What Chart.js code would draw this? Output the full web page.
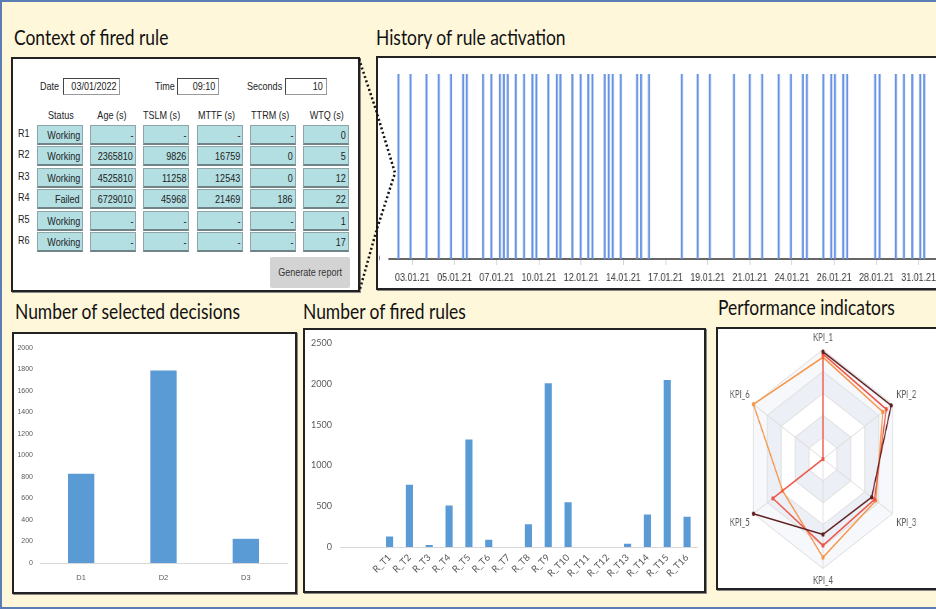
<!DOCTYPE html>
<html>
<head>
<meta charset="utf-8">
<title>Rule dashboard</title>
<script src="https://cdn.jsdelivr.net/npm/chart.js@4.4.1/dist/chart.umd.min.js"></script>
<style>
  html, body { margin: 0; padding: 0; }
  body {
    width: 936px; height: 609px; overflow: hidden; position: relative;
    background: #FFF7DA;
    font-family: "Liberation Sans", Arial, sans-serif;
    color: #222;
  }
  #frame {
    position: absolute; left: 0; top: 0; width: 940px; height: 605px;
    border-left: 2px solid #5A7DB5; border-top: 2px solid #5A7DB5; border-bottom: 2px solid #5A7DB5;
  }
  .title {
    position: absolute; font-family: Lato, sans-serif; font-size: 21px; line-height: 1;
    white-space: nowrap; color: #111; transform-origin: 0 0; transform: scaleX(0.83);
  }
  .panel {
    position: absolute; background: #fff; border: 2px solid #222;
    box-shadow: 1px 1px 0 #888; box-sizing: border-box;
  }
  .lbl, .hdr, .box, .cell { position: absolute; font-size: 10.5px; white-space: nowrap; }
  .lbl span, .hdr span, .box span, .cell span { display: inline-block; transform: scaleX(0.86); }
  .lbl { line-height: 14px; }
  .lbl span { transform-origin: 0 50%; }
  .hdr { line-height: 14px; width: 60px; text-align: center; }
  .hdr span { transform-origin: 50% 50%; }
  .box {
    background: #fff; box-sizing: border-box; height: 17px;
    border: 1px solid #444; border-right-color: #999; border-bottom-color: #999;
    line-height: 15px; text-align: right; padding-right: 3px;
  }
  .cell {
    box-sizing: border-box; height: 20px; width: 46px;
    background: #B3DFE2; border: 1px solid #8FA5A7; border-bottom: 2px solid #6F8486;
    line-height: 18px; text-align: right; padding-right: 2px;
  }
  .box span, .cell span { transform-origin: 100% 50%; }
  #btn {
    position: absolute; left: 270px; top: 257px; width: 80px; height: 31px;
    background: #D3D3D3; border-radius: 2px; font-size: 10.5px; line-height: 31px;
    text-align: center; color: #333;
  }
  #btn span { display: inline-block; transform: scaleX(0.86); }
  canvas { position: absolute; transform-origin: 0 0; }
</style>
</head>
<body>
<div id="frame"></div>

<div class="title" style="left:14px;top:26px;">Context of fired rule</div>
<div class="title" style="left:376px;top:26px;">History of rule activation</div>
<div class="title" style="left:15px;top:300px;">Number of selected decisions</div>
<div class="title" style="left:303px;top:300px;">Number of fired rules</div>
<div class="title" style="left:718px;top:296px;">Performance indicators</div>

<div class="panel" style="left:11px;top:57px;width:349px;height:235px;"></div>
<div class="panel" style="left:376px;top:56px;width:580px;height:234px;"></div>
<div class="panel" style="left:12px;top:332px;width:285px;height:262px;"></div>
<div class="panel" style="left:303px;top:328px;width:403px;height:265px;"></div>
<div class="panel" style="left:716px;top:327px;width:240px;height:263px;"></div>

<svg style="position:absolute;left:355px;top:55px;" width="50" height="240">
  <polyline points="4,4 21,55 40,118 21,177 5,234" fill="none" stroke="#111"
            stroke-width="2.5" stroke-dasharray="2 2.5"/>
</svg>

<div id="context"></div>
<div id="btn"><span>Generate report</span></div>

<canvas id="histChart" width="670" height="228" style="left:379px;top:59px;width:670px;height:228px;transform:scaleX(0.85);"></canvas>
<canvas id="decChart" width="281" height="258" style="left:14px;top:334px;width:281px;height:258px;"></canvas>
<canvas id="ruleChart" width="397" height="261" style="left:305px;top:330px;width:397px;height:261px;"></canvas>
<canvas id="kpiChart" width="298" height="259" style="left:718px;top:329px;width:298px;height:259px;transform:scaleX(0.7341);"></canvas>

<script>
// ---- context table ----
const ctxDate = '03/01/2022';
const ctxTime = '09:10';
const ctxSeconds = '10';
const ruleRows = ['R1', 'R2', 'R3', 'R4', 'R5', 'R6'];
const tableHeaders = ['Status', 'Age (s)', 'TSLM (s)', 'MTTF (s)', 'TTRM (s)', 'WTQ (s)'];
const statusCol = ['Working', 'Working', 'Working', 'Failed', 'Working', 'Working'];
const ageCol = ['-', '2365810', '4525810', '6729010', '-', '-'];
const tslmCol = ['-', '9826', '11258', '45968', '-', '-'];
const mttfCol = ['-', '16759', '12543', '21469', '-', '-'];
const ttrmCol = ['-', '0', '0', '186', '-', '-'];
const wtqCol = ['0', '5', '12', '22', '1', '17'];

// ---- history of rule activation (day of January 2021, fractional) ----
const activationDays = [
  2.23, 2.90, 3.78, 4.46, 5.14, 5.81, 6.01, 6.91, 7.37, 7.84, 8.06, 8.28, 8.72,
  9.18, 9.64, 9.86, 10.52, 10.99, 11.19, 11.85, 12.31, 12.73, 12.96, 13.64, 13.86,
  14.08, 14.53, 15.43, 15.65, 16.09, 17.90, 18.78, 19.45, 20.79, 21.66, 22.35,
  23.26, 23.94, 24.60, 24.82, 25.73, 26.17, 26.37, 26.83, 27.05, 28.60, 28.84,
  29.74, 30.19, 30.65, 31.09, 31.31
];
const historyTickLabels = ['03.01.21', '05.01.21', '07.01.21', '10.01.21', '12.01.21', '14.01.21',
  '17.01.21', '19.01.21', '21.01.21', '24.01.21', '26.01.21', '28.01.21', '31.01.21'];
const firstTickDay = 3;          // 03.01.21 00:00
const tickStepDays = 56 / 24;    // one label every 56 hours

// ---- selected decisions ----
const decisionLabels = ['D1', 'D2', 'D3'];
const decisionCounts = [830, 1790, 225];

// ---- fired rules ----
const ruleLabels = ['', '', 'R_T1', 'R_T2', 'R_T3', 'R_T4', 'R_T5', 'R_T6', 'R_T7', 'R_T8',
  'R_T9', 'R_T10', 'R_T11', 'R_T12', 'R_T13', 'R_T14', 'R_T15', 'R_T16'];
const firedCounts = [null, null, 130, 765, 25, 510, 1320, 90, 0, 280,
  2010, 550, 0, 0, 40, 400, 2050, 370];

// ---- performance indicators ----
const kpiLabels = ['KPI_1', 'KPI_2', 'KPI_3', 'KPI_4', 'KPI_5', 'KPI_6'];
const kpiDark = [4.9, 4.9, 3.5, 3.45, 5.0, null];
const kpiRed = [4.8, 4.55, 3.7, 3.95, 3.6, 0];
const kpiOrange = [4.65, 4.3, 3.8, 4.5, 2.9, 5.0];

function buildContext() {
  const host = document.getElementById('context');
  const add = (cls, style, text) => {
    const d = document.createElement('div');
    d.className = cls;
    d.style.cssText = style;
    const s = document.createElement('span');
    s.textContent = text;
    d.appendChild(s);
    host.appendChild(d);
  };
  add('lbl', 'left:40px;top:79px;', 'Date');
  add('box', 'left:63px;top:78px;width:57px;', ctxDate);
  add('lbl', 'left:155px;top:79px;', 'Time');
  add('box', 'left:177px;top:78px;width:42px;', ctxTime);
  add('lbl', 'left:247px;top:79px;', 'Seconds');
  add('box', 'left:285px;top:78px;width:42px;', ctxSeconds);

  const colLeft = [37, 90, 143, 197, 250, 303];
  const hdrCenter = [61, 112, 162, 217, 270, 327];
  const cols = [statusCol, ageCol, tslmCol, mttfCol, ttrmCol, wtqCol];
  tableHeaders.forEach((h, i) => add('hdr', `left:${hdrCenter[i] - 30}px;top:108px;`, h));
  ruleRows.forEach((r, j) => {
    const top = 125 + j * 21.4;
    add('lbl', `left:18px;top:${top + 1}px;`, r);
    cols.forEach((col, i) => add('cell', `left:${colLeft[i]}px;top:${top}px;`, col[j]));
  });
}
buildContext();

const sans = '"Liberation Sans", Arial, sans-serif';
const lato = 'Lato, sans-serif';
const noPlugins = { legend: { display: false }, tooltip: { enabled: false } };
const plain = v => String(v);

// History of rule activation
new Chart(document.getElementById('histChart'), {
  type: 'bar',
  data: {
    datasets: [{
      data: activationDays.map(d => ({ x: d, y: 1 })),
      backgroundColor: '#6592E2',
      barThickness: 1.8
    }]
  },
  options: {
    responsive: false,
    animation: false,
    plugins: noPlugins,
    layout: { padding: { top: 15, bottom: 2, left: 0, right: 2 } },
    scales: {
      x: {
        type: 'linear', min: 1.72, max: 32.56, offset: false,
        afterBuildTicks: axis => {
          axis.ticks = historyTickLabels.map((l, i) => ({ value: firstTickDay + i * tickStepDays }));
        },
        afterFit: axis => { axis.height = 26; },
        ticks: {
          autoSkip: false, maxRotation: 0, padding: 7, color: '#333',
          font: { family: sans, size: 10.5 },
          callback: (v, i) => historyTickLabels[i]
        },
        grid: { drawOnChartArea: false, offset: false, color: '#cfcfcf', tickLength: 6 },
        border: { color: '#666', width: 2 }
      },
      y: {
        min: 0, max: 1,
        afterBuildTicks: axis => { axis.ticks = [{ value: 0 }]; },
        afterFit: axis => { axis.width = 12; },
        ticks: { color: '#333', padding: 3, font: { family: sans, size: 10.5 }, callback: () => '0' },
        grid: { display: false },
        border: { display: false }
      }
    }
  }
});

// Number of selected decisions
new Chart(document.getElementById('decChart'), {
  type: 'bar',
  data: {
    labels: decisionLabels,
    datasets: [{ data: decisionCounts, backgroundColor: '#5B9BD5', categoryPercentage: 1, barPercentage: 0.32 }]
  },
  options: {
    responsive: false,
    animation: false,
    plugins: noPlugins,
    layout: { padding: { top: 14, bottom: 9, left: 0, right: 8 } },
    scales: {
      x: {
        afterFit: axis => { axis.height = 20; },
        ticks: { color: '#595959', padding: 10, font: { family: sans, size: 7.5 } },
        grid: { display: false, drawTicks: false },
        border: { color: '#D9D9D9', width: 1 }
      },
      y: {
        min: 0, max: 2000,
        afterFit: axis => { axis.width = 26; },
        ticks: { stepSize: 200, color: '#595959', padding: 7, font: { family: sans, size: 7 }, callback: plain },
        grid: { display: false, drawTicks: false },
        border: { display: false }
      }
    }
  }
});

// Number of fired rules
new Chart(document.getElementById('ruleChart'), {
  type: 'bar',
  data: {
    labels: ruleLabels,
    datasets: [{ data: firedCounts, backgroundColor: '#5B9BD5', categoryPercentage: 1, barPercentage: 0.36 }]
  },
  options: {
    responsive: false,
    animation: false,
    plugins: noPlugins,
    layout: { padding: { top: 13, bottom: 10, left: 0, right: 5 } },
    scales: {
      x: {
        afterFit: axis => { axis.height = 34; },
        ticks: {
          autoSkip: false, minRotation: 45, maxRotation: 45, padding: 5,
          color: '#595959', font: { family: lato, size: 9.5 }
        },
        grid: { display: false, drawTicks: false },
        border: { color: '#D9D9D9', width: 1 }
      },
      y: {
        min: 0, max: 2500,
        afterFit: axis => { axis.width = 35; },
        ticks: { stepSize: 500, color: '#595959', padding: 8, font: { family: lato, size: 9 }, callback: plain },
        grid: { display: false, drawTicks: false },
        border: { display: false }
      }
    }
  }
});

// alternating hexagonal bands behind the radar grid
const ringBands = {
  id: 'ringBands',
  beforeDraw(chart) {
    const r = chart.scales.r;
    const ctx = chart.ctx;
    const n = chart.data.labels.length;
    const bands = [[5, 4, '#F7F8FB'], [4, 3, '#ECEFF5'], [2, 1, '#ECEFF5']];
    const ring = v => {
      for (let i = 0; i < n; i++) {
        const p = r.getPointPositionForValue(i, v);
        if (i === 0) ctx.moveTo(p.x, p.y); else ctx.lineTo(p.x, p.y);
      }
      ctx.closePath();
    };
    ctx.save();
    bands.forEach(([outer, inner, color]) => {
      ctx.beginPath();
      ring(outer);
      ring(inner);
      ctx.fillStyle = color;
      ctx.fill('evenodd');
    });
    ctx.restore();
  }
};

const kpiSet = (data, color) => ({
  data, borderColor: color, backgroundColor: color, pointBackgroundColor: color,
  borderWidth: 1.6, pointRadius: 2.2, pointBorderWidth: 0, fill: false
});

new Chart(document.getElementById('kpiChart'), {
  type: 'radar',
  data: {
    labels: kpiLabels,
    datasets: [kpiSet(kpiDark, '#5E1E1E'), kpiSet(kpiRed, '#EE5345'), kpiSet(kpiOrange, '#F7923F')]
  },
  options: {
    responsive: false,
    animation: false,
    plugins: noPlugins,
    layout: { padding: { top: 3, bottom: 0, left: 0, right: 11 } },
    scales: {
      r: {
        min: 0, max: 5,
        ticks: { display: false, stepSize: 1 },
        grid: { color: '#DCDCDC' },
        angleLines: { color: '#DCDCDC' },
        pointLabels: { color: '#595959', padding: 6, font: { family: lato, size: 10.5 } }
      }
    }
  },
  plugins: [ringBands]
});
</script>
</body>
</html>
